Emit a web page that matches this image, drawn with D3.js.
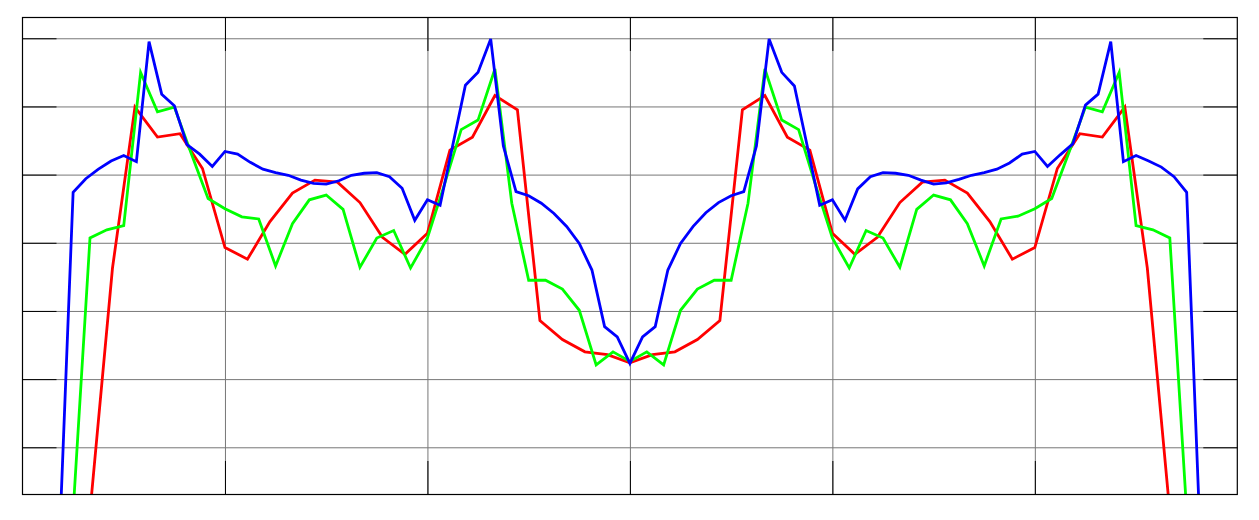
<!DOCTYPE html>
<html>
<head>
<meta charset="utf-8">
<script src="https://cdn.jsdelivr.net/npm/d3@7"></script>
<style>
html, body { margin: 0; padding: 0; background: #ffffff; }
svg { display: block; }
</style>
</head>
<body>
<svg id="chart" width="1259" height="520"></svg>
<script>
// ---- data (angle in degrees, level in dB) ----
const xTickValues = [60, 120, 180, 240, 300];
const yTickValues = [0, -10, -20, -30, -40, -50, -60];

const redAngles = d3.range(55).map(i => i * 360 / 54);
const redValues = [-95, -90, -85, -69.5,
  -33.7, -10.1, -14.5, -14.0, -19.1, -30.7,
  -32.4, -26.9, -22.7, -20.8, -21.1, -24.1, -29.2, -31.7, -28.6,
  -16.4, -14.5, -8.4, -10.5, -41.4, -44.2, -46.0, -46.4, -47.6,
  -46.4, -46.0, -44.2, -41.4, -10.5, -8.4, -14.5, -16.4, -28.6,
  -31.7, -29.2, -24.1, -21.1, -20.8, -22.7, -26.9, -32.4, -30.7,
  -19.1, -14.0, -14.5, -10.1, -33.7,
  -69.5, -85, -90, -95];

const greenAngles = d3.range(73).map(i => i * 5);
const greenValues = [-90, -85, -80, -69.5,
  -29.3, -28.1, -27.5, -5.0, -10.8, -10.1, -16.9, -23.5, -25.0,
  -26.2, -26.5, -33.4, -27.2, -23.7, -23.0, -25.1, -33.6, -29.3, -28.2, -33.7, -29.3,
  -21.5, -13.4, -12.0, -4.5, -24.2, -35.5, -35.5, -36.8, -39.9, -47.9, -46.0, -47.4,
  -46.0, -47.9, -39.9, -36.8, -35.5, -35.5, -24.2, -4.5, -12.0, -13.4, -21.5, -29.3,
  -33.7, -28.2, -29.3, -33.6, -25.1, -23.0, -23.7, -27.2, -33.4, -26.5, -26.1, -25.0,
  -23.5, -16.9, -10.1, -10.8, -5.0, -27.5, -28.1, -29.3,
  -69.5, -80, -85, -90];

const blueAngles = d3.range(97).map(i => i * 3.75);
const blueValues = [-90, -85, -80, -70,
  -22.6, -20.6, -19.2, -18.0, -17.2, -18.1, -0.5, -8.2, -9.9, -15.6, -17.0, -18.8, -16.6,
  -17.0, -18.2, -19.2, -19.7, -20.1, -20.8, -21.3, -21.4, -20.9, -20.1, -19.8, -19.7, -20.3, -22.0, -26.7, -23.7,
  -24.5, -15.7, -6.9, -5.0, -0.1, -15.8, -22.5, -23.1, -24.2, -25.7, -27.6, -30.1, -34.0, -42.3, -43.8, -47.7,
  -43.8, -42.3, -34.0, -30.1, -27.6, -25.6, -24.1, -23.1, -22.5, -15.8, -0.1, -5.0, -7.0, -15.7, -24.5, -23.7,
  -26.7, -22.1, -20.3, -19.7, -19.8, -20.1, -20.8, -21.4, -21.2, -20.7, -20.1, -19.7, -19.2, -18.3, -17.0, -16.6,
  -18.8, -17.1, -15.5, -9.8, -8.2, -0.5, -18.1, -17.2, -18.0, -18.9, -20.3, -22.6,
  -70, -80, -85, -90];

const seriesColors = ["#ff0000", "#00ff00", "#0000ff"];

// ---- layout ----
const plot = { left: 22.5, right: 1237.3, top: 17, bottom: 495 };
const svg = d3.select("#chart");

const x = d3.scaleLinear().domain([0, 360]).range([plot.left, plot.right]);
const y = d3.scaleLinear().domain([-67.0, 3.12]).range([plot.bottom, plot.top]);

// gridlines
const gx = svg.append("g")
  .attr("transform", `translate(0,${plot.bottom})`)
  .call(d3.axisBottom(x).tickValues(xTickValues).tickSize(-(plot.bottom - plot.top)).tickFormat(""));
gx.select(".domain").remove();
gx.selectAll("line").attr("stroke", "#777777");

const gy = svg.append("g")
  .attr("transform", `translate(${plot.left},0)`)
  .call(d3.axisLeft(y).tickValues(yTickValues).tickSize(-(plot.right - plot.left)).tickFormat(""));
gy.select(".domain").remove();
gy.selectAll("line").attr("stroke", "#777777");

// clip
svg.append("clipPath").attr("id", "plotclip")
  .append("rect")
  .attr("x", plot.left).attr("y", plot.top)
  .attr("width", plot.right - plot.left).attr("height", plot.bottom - plot.top);

const line = d3.line().x(d => x(d[0])).y(d => y(d[1]));
const series = [
  { angles: redAngles, values: redValues, color: seriesColors[0] },
  { angles: greenAngles, values: greenValues, color: seriesColors[1] },
  { angles: blueAngles, values: blueValues, color: seriesColors[2] }
];
const lines = svg.append("g").attr("clip-path", "url(#plotclip)");
series.forEach(s => {
  lines.append("path")
    .datum(s.angles.map((a, i) => [a, s.values[i]]))
    .attr("fill", "none")
    .attr("stroke", s.color)
    .attr("stroke-width", 2.8)
    .attr("d", line);
});

// inward black ticks on all four sides
const tickLen = 34;
function styleTicks(g) {
  g.select(".domain").remove();
  g.selectAll("line").attr("stroke", "#000000");
}
svg.append("g").attr("transform", `translate(0,${plot.bottom})`)
  .call(d3.axisBottom(x).tickValues(xTickValues).tickSizeInner(-tickLen).tickSizeOuter(0).tickFormat(""))
  .call(styleTicks);
svg.append("g").attr("transform", `translate(0,${plot.top})`)
  .call(d3.axisTop(x).tickValues(xTickValues).tickSizeInner(-tickLen).tickSizeOuter(0).tickFormat(""))
  .call(styleTicks);
svg.append("g").attr("transform", `translate(${plot.left},0)`)
  .call(d3.axisLeft(y).tickValues(yTickValues).tickSizeInner(-tickLen).tickSizeOuter(0).tickFormat(""))
  .call(styleTicks);
svg.append("g").attr("transform", `translate(${plot.right},0)`)
  .call(d3.axisRight(y).tickValues(yTickValues).tickSizeInner(-tickLen).tickSizeOuter(0).tickFormat(""))
  .call(styleTicks);

// frame
svg.append("rect")
  .attr("x", plot.left).attr("y", plot.top + 0.5)
  .attr("width", plot.right - plot.left).attr("height", plot.bottom - plot.top - 1)
  .attr("fill", "none").attr("stroke", "#000000").attr("stroke-width", 1.2);
</script>
</body>
</html>
